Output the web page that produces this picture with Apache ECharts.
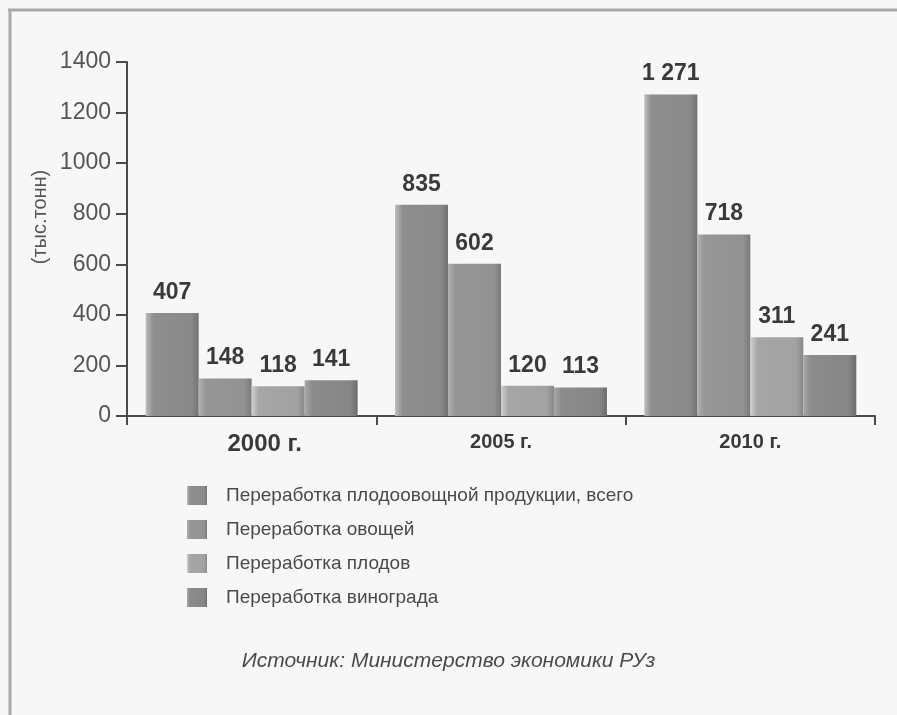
<!DOCTYPE html>
<html>
<head>
<meta charset="utf-8">
<script src="https://cdn.jsdelivr.net/npm/echarts@6/dist/echarts.min.js"></script>
<style>
  html, body { margin: 0; padding: 0; background: #f7f7f7; }
  #chart { width: 897px; height: 715px; }
</style>
</head>
<body>
<div id="chart"></div>
<script>
const years = ['2000 г.', '2005 г.', '2010 г.']
const seriesNames = [
  'Переработка плодоовощной продукции, всего',
  'Переработка овощей',
  'Переработка плодов',
  'Переработка винограда'
]
const totalData = [407, 835, 1271]
const vegData = [148, 602, 718]
const fruitData = [118, 120, 311]
const grapeData = [141, 113, 241]
const yTicks = [0, 200, 400, 600, 800, 1000, 1200, 1400]

// серые "объёмные" заливки: светлая кромка слева, темнее справа
const shades = [
  ['#bdbdbd', '#8e8e8e', '#8a8a8a', '#727272'],
  ['#b0b0b0', '#969696', '#929292', '#7a7a7a'],
  ['#cfcfcf', '#a6a6a6', '#a2a2a2', '#888888'],
  ['#a8a8a8', '#8c8c8c', '#868686', '#6c6c6c']
]
function grad (s) {
  return new echarts.graphic.LinearGradient(0, 0, 1, 0, [
    { offset: 0, color: s[0] },
    { offset: 0.14, color: s[1] },
    { offset: 0.86, color: s[2] },
    { offset: 1, color: s[3] }
  ])
}

function fmt (v) {
  const n = v.value
  return n >= 1000 ? Math.floor(n / 1000) + ' ' + String(n % 1000).padStart(3, '0') : String(n)
}

const allData = [totalData, vegData, fruitData, grapeData]
const series = allData.map((d, i) => ({
  name: seriesNames[i],
  type: 'bar',
  data: d,
  barGap: '0%',
  barCategoryGap: '15%',
  itemStyle: { color: grad(shades[i]) },
  label: {
    show: true,
    position: 'top',
    distance: 9,
    formatter: fmt,
    fontFamily: 'Liberation Sans, Arial, sans-serif',
    fontWeight: 'bold',
    fontSize: 23,
    color: '#3a3a3a'
  }
}))

const chart = echarts.init(document.getElementById('chart'))
chart.setOption({
  backgroundColor: '#f7f7f7',
  animation: false,
  textStyle: { fontFamily: 'Liberation Sans, Arial, sans-serif' },
  grid: { left: 127, right: 22, top: 62, bottom: 299, containLabel: false },
  legend: {
    orient: 'vertical',
    left: 182,
    top: 481,
    itemWidth: 20,
    itemHeight: 19,
    itemGap: 15,
    icon: 'rect',
    data: seriesNames,
    textStyle: { fontSize: 19, color: '#4a4a4a', padding: [0, 0, 0, 14] }
  },
  xAxis: {
    type: 'category',
    data: years,
    axisLine: { lineStyle: { color: '#4a4a4a', width: 2 } },
    axisTick: { show: true, length: 9, lineStyle: { color: '#4a4a4a', width: 2 } },
    axisLabel: {
      margin: 16,
      fontWeight: 'bold',
      color: '#3a3a3a',
      formatter: function (v, idx) {
        return idx === 0 ? '{big|' + v + '}' : '{small|' + v + '}'
      },
      rich: {
        big: { fontSize: 24, fontWeight: 'bold', color: '#3a3a3a', padding: [0, 0, 0, 26] },
        small: { fontSize: 20, fontWeight: 'bold', color: '#3a3a3a' }
      }
    }
  },
  yAxis: {
    type: 'value',
    min: yTicks[0],
    max: yTicks[yTicks.length - 1],
    interval: 200,
    axisLine: { show: true, lineStyle: { color: '#4a4a4a', width: 2 } },
    axisTick: { show: true, length: 11, lineStyle: { color: '#4a4a4a', width: 2 } },
    axisLabel: { fontSize: 23, color: '#555', margin: 16, formatter: v => String(v) },
    splitLine: { show: false }
  },
  graphic: [
    { type: 'line', shape: { x1: 8, y1: 10, x2: 897, y2: 10 }, style: { stroke: '#a8a8a8', lineWidth: 3 } },
    { type: 'line', shape: { x1: 10, y1: 9, x2: 10, y2: 715 }, style: { stroke: '#a8a8a8', lineWidth: 3 } },
    {
      type: 'text',
      x: 40,
      y: 217,
      rotation: Math.PI / 2,
      style: {
        text: '(тыс.тонн)',
        fontSize: 20,
        fill: '#555',
        align: 'center',
        verticalAlign: 'middle',
        fontFamily: 'Liberation Sans, Arial, sans-serif'
      }
    },
    {
      type: 'text',
      left: 'center',
      top: 651,
      style: {
        text: 'Источник: Министерство экономики РУз',
        fontSize: 21,
        fontStyle: 'italic',
        fill: '#4a4a4a',
        fontFamily: 'Liberation Sans, Arial, sans-serif'
      }
    }
  ],
  series
})
</script>
</body>
</html>
